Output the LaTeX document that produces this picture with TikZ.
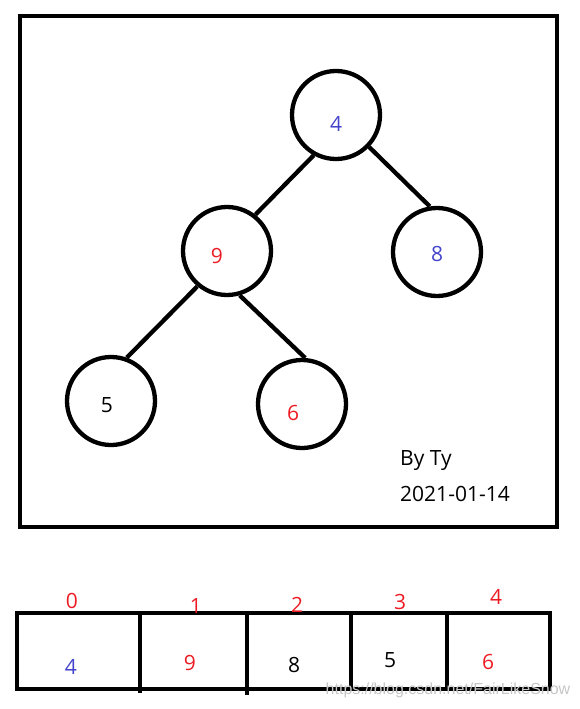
\documentclass[tikz,border=0pt]{standalone}
\usepackage{fontspec}
\setmainfont{Open Sans}
\newfontfamily\markfont{Liberation Sans}
\usepackage{tikz}

\definecolor{numblue}{RGB}{68,68,204}
\definecolor{numred}{RGB}{237,28,36}

\begin{document}
\begin{tikzpicture}[x=1pt, y=-1pt,
        heapnode/.style={draw, circle, line width=4.3pt, minimum size=88pt, inner sep=0pt},
        num/.style={font=\fontsize{21}{23}\selectfont, inner sep=0pt},
        idx/.style={num, text=numred},
        edge/.style={line width=4.3pt}]
        \useasboundingbox (0, 0) rectangle (580, 709);
        % the heap as a tree
        \draw[line width=4.3pt] (20, 16) rectangle (557, 527);
        \node[heapnode] (n4) at (336, 115) {};
        \node[heapnode] (n9) at (227, 251) {};
        \node[heapnode] (n8) at (437, 252) {};
        \node[heapnode] (n5) at (111, 401) {};
        \node[heapnode] (n6) at (302, 404) {};
        \node[num, text=numblue] (t4) at (336, 124) {4};
        \node[num, text=numred] (t9) at (217, 256) {9};
        \node[num, text=numblue] (t8) at (437, 254) {8};
        \node[num] (t5) at (107, 405) {5};
        \node[num, text=numred] (t6) at (293, 413) {6};
        \draw[edge] (n4.241) -- (n9.52);
        \draw[edge] (n4.316) -- (n8.99);
        \draw[edge] (n9.230) -- (n5.70);
        \draw[edge] (n9.286) -- (n6.86);
        \node[num, anchor=west] (by) at (400, 461) {By Ty};
        \node[num, anchor=west] (date) at (400, 494) {2021-01-14};
        % the heap as an array
        \draw[line width=4.3pt] (17, 613) rectangle (550, 689);
        \draw[line width=4.3pt] (140, 613) -- (140, 693);
        \draw[line width=4.3pt] (247, 613) -- (247, 695);
        \draw[line width=4.3pt] (351, 613) -- (351, 689);
        \draw[line width=4.3pt] (447, 613) -- (447, 689);
        \node[idx] (i0) at (72, 601) {0};
        \node[idx] (i1) at (196, 606) {1};
        \node[idx] (i2) at (297, 605) {2};
        \node[idx] (i3) at (400, 602) {3};
        \node[idx] (i4) at (496, 597) {4};
        \node[num, text=numblue] (a0) at (71, 667) {4};
        \node[num, text=numred] (a1) at (190, 663) {9};
        \node[num] (a2) at (294, 665) {8};
        \node[num] (a3) at (390, 660) {5};
        \node[num, text=numred] (a4) at (488, 662) {6};
        \node[font=\markfont\fontsize{16}{18}\selectfont, text=gray!45, inner sep=0pt] (mark) at (448, 690) {https://blog.csdn.net/FairLikeSnow};
    \end{tikzpicture}
\end{document}
